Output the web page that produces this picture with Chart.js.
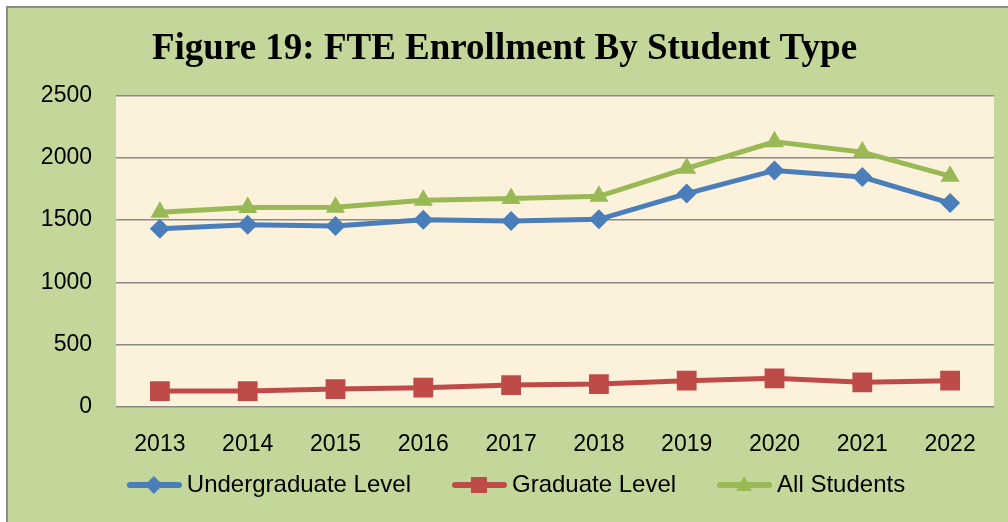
<!DOCTYPE html>
<html>
<head>
<meta charset="utf-8">
<script src="https://cdn.jsdelivr.net/npm/chart.js@4/dist/chart.umd.min.js"></script>
<style>
  html, body { margin: 0; padding: 0; background: #ffffff; }
  #wrap { position: relative; width: 1008px; height: 522px; }
</style>
</head>
<body>
<div id="wrap"><canvas id="fteChart" width="1008" height="522"></canvas></div>
<script>
const years = ['2013', '2014', '2015', '2016', '2017', '2018', '2019', '2020', '2021', '2022'];
const undergrad = [1431, 1463, 1452, 1503, 1492, 1506, 1712, 1898, 1845, 1636];
const graduate = [128, 128, 144, 155, 176, 184, 211, 230, 198, 211];
const allStudents = [1562, 1600, 1603, 1658, 1672, 1690, 1915, 2128, 2045, 1852];
const yTicks = [0, 500, 1000, 1500, 2000, 2500];

const BLUE = '#4a7ebb';
const RED = '#be4b48';
const GREEN = '#98b954';

// legend icon: short line with the marker on it (drawn off-centre so it sits left of the text)
function makeIcon(color, shape) {
  const c = document.createElement('canvas');
  c.width = 85;
  c.height = 24;
  const g = c.getContext('2d');
  g.strokeStyle = color;
  g.fillStyle = color;
  g.lineWidth = 6;
  g.lineCap = 'round';
  g.beginPath();
  g.moveTo(33, 12);
  g.lineTo(82, 12);
  g.stroke();
  const cx = 57, cy = 12;
  g.beginPath();
  if (shape === 'diamond') {
    g.moveTo(cx, cy - 9); g.lineTo(cx + 9, cy); g.lineTo(cx, cy + 9); g.lineTo(cx - 9, cy);
  } else if (shape === 'square') {
    g.rect(cx - 8, cy - 8, 16, 16);
  } else {
    g.moveTo(cx, cy - 9); g.lineTo(cx + 8, cy + 6); g.lineTo(cx - 8, cy + 6);
  }
  g.closePath();
  g.fill();
  return c;
}
const legendIcons = [makeIcon(BLUE, 'diamond'), makeIcon(RED, 'square'), makeIcon(GREEN, 'triangle')];

const backdrop = {
  id: 'backdrop',
  beforeDraw(chart) {
    const { ctx, chartArea } = chart;
    ctx.save();
    ctx.fillStyle = '#ffffff';
    ctx.fillRect(0, 0, chart.width, chart.height);
    ctx.fillStyle = '#c4d79b';
    ctx.fillRect(7, 7, chart.width - 7, chart.height - 7);
    ctx.strokeStyle = '#8a8a8a';
    ctx.lineWidth = 2;
    ctx.beginPath();
    ctx.moveTo(7, chart.height);
    ctx.lineTo(7, 7);
    ctx.lineTo(chart.width, 7);
    ctx.stroke();
    ctx.fillStyle = '#fcf1da';
    ctx.fillRect(chartArea.left, chartArea.top, chartArea.right - chartArea.left, chartArea.bottom - chartArea.top);
    ctx.restore();
  }
};

const ctx = document.getElementById('fteChart').getContext('2d');
new Chart(ctx, {
  type: 'line',
  data: {
    labels: years,
    datasets: [
      {
        label: 'Undergraduate Level',
        data: undergrad,
        borderColor: BLUE,
        backgroundColor: BLUE,
        borderWidth: 5,
        pointStyle: 'rectRot',
        pointRadius: 10,
        pointBorderWidth: 0
      },
      {
        label: 'Graduate Level',
        data: graduate,
        borderColor: RED,
        backgroundColor: RED,
        borderWidth: 5,
        pointStyle: 'rect',
        pointRadius: 14,
        pointBorderWidth: 0
      },
      {
        label: 'All Students',
        data: allStudents,
        borderColor: GREEN,
        backgroundColor: GREEN,
        borderWidth: 5,
        pointStyle: 'triangle',
        pointRadius: 11,
        pointBorderWidth: 0
      }
    ]
  },
  options: {
    responsive: false,
    animation: false,
    layout: { padding: { left: 13, right: 12, top: 0, bottom: 15 } },
    plugins: {
      title: {
        display: true,
        text: 'Figure 19: FTE Enrollment By Student Type',
        color: '#000000',
        font: { family: '"Liberation Serif", "Times New Roman", serif', size: 37, weight: 'bold' },
        padding: { top: 27, bottom: 24 }
      },
      legend: {
        position: 'bottom',
        labels: {
          color: '#000000',
          font: { family: '"Liberation Sans", Arial, sans-serif', size: 24 },
          usePointStyle: true,
          pointStyleWidth: 71,
          padding: 18,
          generateLabels(chart) {
            const items = Chart.defaults.plugins.legend.labels.generateLabels(chart);
            items.forEach((it, i) => { it.pointStyle = legendIcons[i]; });
            return items;
          }
        }
      },
      tooltip: { enabled: false }
    },
    scales: {
      x: {
        offset: true,
        grid: { display: false },
        border: { display: false },
        ticks: {
          color: '#000000',
          font: { family: '"Liberation Sans", Arial, sans-serif', size: 23 },
          padding: 16,
          maxRotation: 0
        },
        afterFit(scale) { scale.height = 48; }
      },
      y: {
        min: 0,
        max: 2500,
        afterBuildTicks(scale) { scale.ticks = yTicks.map(v => ({ value: v })); },
        grid: { color: '#898989', lineWidth: 1.5, drawTicks: false },
        border: { display: false },
        ticks: {
          color: '#000000',
          font: { family: '"Liberation Sans", Arial, sans-serif', size: 23 },
          padding: 24,
          callback: v => String(v)
        },
        afterFit(scale) { scale.width = 103; }
      }
    }
  },
  plugins: [backdrop]
});
</script>
</body>
</html>
